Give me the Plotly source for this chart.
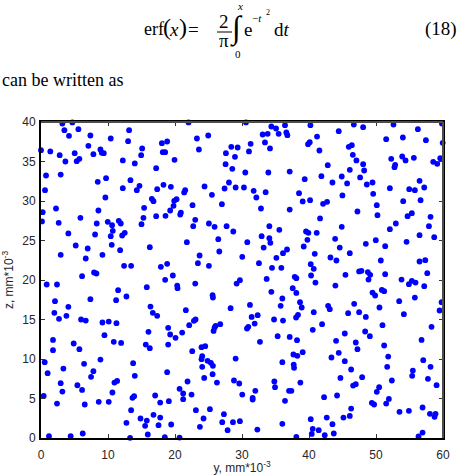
import plotly.graph_objects as go

# ---------------- data (y, z in mm*10^-3) ----------------
y_top_left = [3.19,4.68,3.49,5.58,4.18,7.37,13.15,10.41,13.0,7.07,8.87,9.07,9.37,7.82,0.0,1.39,2.79,5.03,3.64,5.33,5.73,12.21,14.0,15.1,14.95,18.04,18.83,18.18,18.53,19.93,17.19,0.75,2.94,8.47,9.71,13.35,12.21,14.3,14.7,17.34,18.28,19.38,0.6,9.61,16.54,16.79,19.88,19.78,2.24,0.25,8.57,15.39,5.88,0.15,2.64,8.32,9.96,10.61,11.61,11.91,10.71,12.11,12.5,10.41,8.07,4.08,15.0,15.29,17.19,18.58,19.28,5.18,6.97,10.56,11.81,16.24,2.94,9.17,6.68,12.4,13.45,17.89,18.83,6.13,7.92,8.27,19.68]
z_top_left = [39.81,39.94,38.97,39.09,38.25,38.29,38.97,37.91,37.57,36.98,36.52,36.10,36.06,35.93,36.43,36.27,35.80,36.06,35.0,35.04,35.34,35.13,34.75,36.65,35.80,37.32,37.53,36.18,36.18,35.21,34.16,33.23,33.35,32.43,32.89,32.64,31.62,31.37,31.92,31.50,32.05,31.79,31.37,30.44,30.27,29.98,30.02,29.39,29.05,28.59,28.80,29.14,27.87,27.41,27.24,27.15,27.36,26.94,27.49,27.15,26.22,25.63,25.97,25.55,25.76,25.89,27.07,27.87,28.08,28.12,28.80,24.37,23.99,24.45,23.78,24.16,23.19,23.19,22.72,21.79,21.79,21.67,22.05,20.49,20.95,20.82,20.57]

y_top_mid = [22.02,30.59,34.38,35.08,36.42,36.62,36.77,35.47,33.08,33.83,23.27,24.96,31.29,33.43,39.86,40.11,23.57,28.4,29.35,27.6,28.95,31.04,34.18,27.55,28.55,30.49,33.93,37.12,39.36,28.05,27.4,29.05,30.29,31.74,32.14,33.53,24.41,21.52,21.37,25.51,20.23,27.0,22.62,20.88,20.78,32.83,37.12,38.51,39.06,40.16,23.02,22.72,25.06,25.91,27.7,28.7,34.08,35.57,39.56,39.91,26.46,21.77,30.79,32.93,34.08,34.23,33.23,36.72,36.12,39.76,39.21,26.61,23.67,30.04,35.13,23.42,25.06,32.53,34.48,35.87,40.26]
z_top_mid = [39.94,39.94,39.43,39.18,39.6,38.67,38.33,38.5,38.42,38.5,37.91,38.29,37.24,37.41,37.19,37.45,36.52,36.86,36.77,36.06,35.59,36.27,36.65,34.66,34.07,33.61,33.61,33.73,32.76,32.34,31.58,31.71,31.71,31.29,30.44,31.12,31.84,31.37,31.08,30.78,30.23,29.6,29.47,28.54,28.29,29.05,28.92,30.99,29.94,30.11,27.62,26.81,27.15,26.73,26.81,26.14,26.81,26.35,26.14,25.97,25.17,24.79,24.79,25.55,25.3,24.71,24.11,23.86,23.4,25.08,24.24,23.61,23.1,22.93,22.81,22.13,21.79,22.13,21.54,21.54,22.0]

y_top_right = [40.21,41.2,41.55,44.44,46.69,48.08,52.61,56.25,59.84,59.95,57.45,54.01,51.52,45.94,46.39,46.54,47.08,48.08,48.23,46.09,42.8,41.85,44.89,43.5,45.69,47.63,48.63,49.48,49.58,44.99,52.27,52.86,52.76,53.91,54.41,55.65,58.54,59.14,59.59,52.07,54.96,55.8,56.5,57.2,56.65,54.06,50.12,50.22,47.23,42.1,42.7,41.65,44.89,55.35,54.71,58.14,57.9,58.69,56.5,52.96,52.07,41.15,43.9,44.59,48.48,49.97,51.37,54.56,40.86,46.09,43.2,44.09,50.72,56.5,57.35,40.71,40.31,45.44,47.48,47.83,48.78,49.13,51.37,57.65]
z_top_right = [39.6,38.16,36.39,38.84,39.68,39.35,39.68,39.09,39.81,37.36,37.7,38.04,37.83,36.86,37.07,35.84,35.13,34.66,33.86,33.95,34.54,33.14,33.1,32.34,32.22,32.98,32.09,32.34,30.91,30.7,35.34,34.58,34.28,35.63,35.13,35.46,34.96,34.71,35.42,31.62,31.5,31.37,32.55,31.71,30.11,29.98,29.47,28.21,28.67,29.64,29.9,27.79,26.73,28.46,28.08,28.0,26.81,25.42,25.68,27.15,26.43,25.97,25.21,24.11,24.58,25.04,24.28,24.83,23.31,23.4,22.85,22.47,22.47,22.34,22.51,21.41,20.57,20.65,21.08,21.16,21.0,20.65,20.74,20.87]

y_bot_left = [0.85,2.39,2.09,1.99,2.69,3.79,4.08,7.37,11.51,11.21,12.75,15.79,18.53,16.34,16.69,17.34,5.98,6.68,9.17,10.11,11.26,9.47,10.86,11.96,18.98,19.28,16.04,15.64,16.24,18.98,1.79,1.79,4.88,5.73,0.55,0.99,3.34,6.43,8.87,7.82,7.47,13.75,14.0,18.83,2.94,3.19,5.43,6.13,10.96,11.36,0.4,2.39,6.53,8.62,10.11,10.66,13.65,13.9,17.04,17.79,19.08,13.45,12.75,14.85,15.79,16.79,17.79,15.54,17.54,19.43,1.19,4.43,6.23,13.3,15.94,18.48]
z_bot_left = [19.43,19.43,17.32,15.84,15.08,15.46,16.6,17.57,18.71,17.44,17.91,19.09,20.02,16.64,15.84,15.46,15.0,14.87,14.62,14.74,14.53,13.01,12.17,12.04,13.94,13.1,13.44,11.83,11.37,11.83,12.42,11.12,11.96,11.24,9.6,8.2,8.79,9.39,9.93,8.46,7.74,9.47,7.87,8.33,6.94,5.88,6.68,6.09,7.02,7.23,5.33,4.36,4.24,4.58,4.58,5.76,5.08,5.29,5.38,4.49,4.66,3.52,1.92,2.47,2.21,2.93,2.59,1.54,1.62,1.71,0.23,0.23,0.57,0.02,0.44,0.1]

y_bot_mid = [20.33,20.38,23.02,29.2,29.69,33.68,34.38,36.02,37.87,38.11,37.57,38.11,38.66,38.91,25.61,25.66,21.62,28.3,31.19,35.77,23.07,22.82,22.12,26.06,25.91,25.76,26.75,31.44,32.34,31.89,30.94,30.74,34.78,36.12,38.07,38.36,20.08,21.07,35.32,37.12,38.21,32.68,23.96,24.51,22.57,24.06,23.96,24.86,25.36,25.66,24.06,29.05,25.61,24.36,37.67,38.26,39.06,36.02,37.72,37.77,21.87,26.26,28.8,29.59,34.83,34.93,38.71,20.68,21.22,21.22,22.47,31.99,30.04,31.59,31.59,37.02,37.37,36.42,23.12,25.21,27.3,24.26,23.72,27.05,28.65,29.69,27.85,32.29,36.02,40.26,20.68,38.11]
z_bot_mid = [19.3,18.96,19.55,19.55,19.98,20.14,18.5,17.66,20.4,20.23,18.96,18.37,17.19,16.52,18.08,17.78,16.18,16.43,16.85,16.73,15.0,14.83,14.28,14.2,13.98,13.56,14.41,15.33,15.55,14.49,14.07,13.86,15.0,14.87,15.25,15.59,12.68,13.35,12.89,12.8,12.38,12.17,11.5,11.62,10.99,10.36,9.98,9.77,9.51,9.13,9.01,10.06,8.08,7.61,10.57,10.4,10.86,9.6,9.3,8.88,7.15,7.02,7.28,6.9,7.15,6.43,7.02,6.22,5.63,4.91,5.5,5.97,5.5,5.08,4.87,5.97,5.97,4.7,3.52,3.65,3.01,2.47,1.41,2.0,2.0,2.13,0.99,1.07,1.79,2.38,0.06,0.15]

y_bot_right = [48.88,40.96,43.94,53.81,54.91,55.35,55.9,57.2,55.8,49.48,49.87,50.87,51.22,53.46,50.52,59.79,59.49,54.16,42.85,43.1,46.74,40.71,45.84,47.48,48.48,41.95,40.56,50.97,58.29,45.34,48.38,49.08,44.04,46.98,47.23,51.22,56.8,44.44,43.35,45.34,51.82,51.67,57.05,58.14,46.29,44.69,47.93,46.59,46.98,52.37,55.5,55.4,57.75,59.04,50.47,50.12,42.25,44.19,49.38,49.72,51.92,51.52,46.29,46.09,45.14,42.65,43.5,53.51,54.91,56.95,58.05,58.89,58.74,40.56,41.45,40.41,42.35,43.7,56.35,56.95]
z_bot_right = [20.06,19.68,19.3,20.06,19.47,19.89,19.68,19.22,17.78,18.41,18.04,18.75,18.58,17.32,16.52,17.19,16.14,15.67,16.73,16.31,16.98,15.93,15.8,15.93,15.33,14.41,13.69,14.28,14.07,13.23,13.48,12.89,12.3,12.09,11.24,11.71,12.42,10.78,10.19,9.72,10.31,9.01,9.85,9.01,8.67,7.61,7.7,6.64,6.81,7.28,8.54,7.87,7.49,6.69,6.43,5.84,5.17,5.38,4.45,4.24,4.95,4.36,3.73,2.8,2.59,2.59,1.75,3.31,3.44,3.86,3.06,3.06,2.68,1.16,0.99,0.52,0.36,0.57,0.19,0.69]

y_all = y_top_left + y_top_mid + y_top_right + y_bot_left + y_bot_mid + y_bot_right
z_all = z_top_left + z_top_mid + z_top_right + z_bot_left + z_bot_mid + z_bot_right

x_ticks = [0, 10, 20, 30, 40, 50, 60]
z_ticks = [0, 5, 10, 15, 20, 25, 30, 35, 40]

# ---------------- figure ----------------
W, H = 457, 475
L, R, T, B = 41, 14, 122, 37
PW, PH = W - L - R, H - T - B

def px(xp):
    return (xp - L) / PW

def py(yp):
    return (H - B - yp) / PH

fig = go.Figure()
fig.add_trace(go.Scatter(
    x=y_all, y=z_all, mode="markers",
    marker=dict(color="#0000ff", size=5.8, line=dict(width=0)),
    cliponaxis=False, showlegend=False, hoverinfo="skip"))

lab_font = dict(family="Liberation Sans, Arial", size=12, color="#262626")
axis_common = dict(
    showline=True, linecolor="black", linewidth=2, mirror="ticks",
    ticks="inside", ticklen=4, tickcolor="#333333", tickwidth=1,
    showgrid=False, zeroline=False, tickfont=lab_font, automargin=False,
)
fig.update_xaxes(range=[0, 60], tickvals=x_ticks, ticklabelstandoff=5, **axis_common,
                 title=dict(text="y, mm*10<sup>-3</sup>", font=lab_font, standoff=3))
fig.update_yaxes(range=[0, 40], tickvals=z_ticks, ticklabelstandoff=1, **axis_common,
                 title=dict(text="z, mm*10<sup>-3</sup>", font=lab_font, standoff=8))

serif = "Liberation Serif"
ann = []
def add(text, xp, yp, size, xanchor="left", yanchor="middle"):
    ann.append(dict(text=text, x=px(xp), y=py(yp), xref="paper", yref="paper",
                    xanchor=xanchor, yanchor=yanchor, showarrow=False,
                    font=dict(family=serif, size=size, color="black")))

add("erf", 142, 29, 18)
add("(", 166.5, 27, 24, xanchor="center")
add("<i>x</i>", 174, 29, 19, xanchor="center")
add(")", 183, 27, 24, xanchor="center")
add("=", 193, 29, 19, xanchor="center")
add("2", 224, 21, 19, xanchor="center")
add("π", 224, 41, 19, xanchor="center")
add("∫", 236, 28, 32, xanchor="center")
add("<i>x</i>", 240, 6, 11, xanchor="center")
add("0", 238, 54, 11, xanchor="center")
add("e", 242, 29, 19)
add("−<i>t</i>", 250, 18, 11)
add("2", 264, 13, 8)
add("d<i>t</i>", 272, 29, 19)
add("(18)", 423, 29, 19)
add("can be written as", 0, 80, 18)

edge = "#4d4d4d"
fig.update_layout(
    width=W, height=H, margin=dict(l=L, r=R, t=T, b=B, pad=0, autoexpand=False),
    paper_bgcolor="white", plot_bgcolor="white",
    annotations=ann,
    shapes=[
        dict(type="line", xref="paper", yref="paper",
             x0=px(217), x1=px(232), y0=py(32), y1=py(32),
             line=dict(color="black", width=1)),
        dict(type="line", xref="paper", yref="paper", layer="above",
             x0=0, x1=1, y0=1, y1=1, line=dict(color=edge, width=2)),
        dict(type="line", xref="paper", yref="paper", layer="above",
             x0=1, x1=1, y0=0, y1=1, line=dict(color=edge, width=2)),
    ],
)

fig.write_html("out.html")
